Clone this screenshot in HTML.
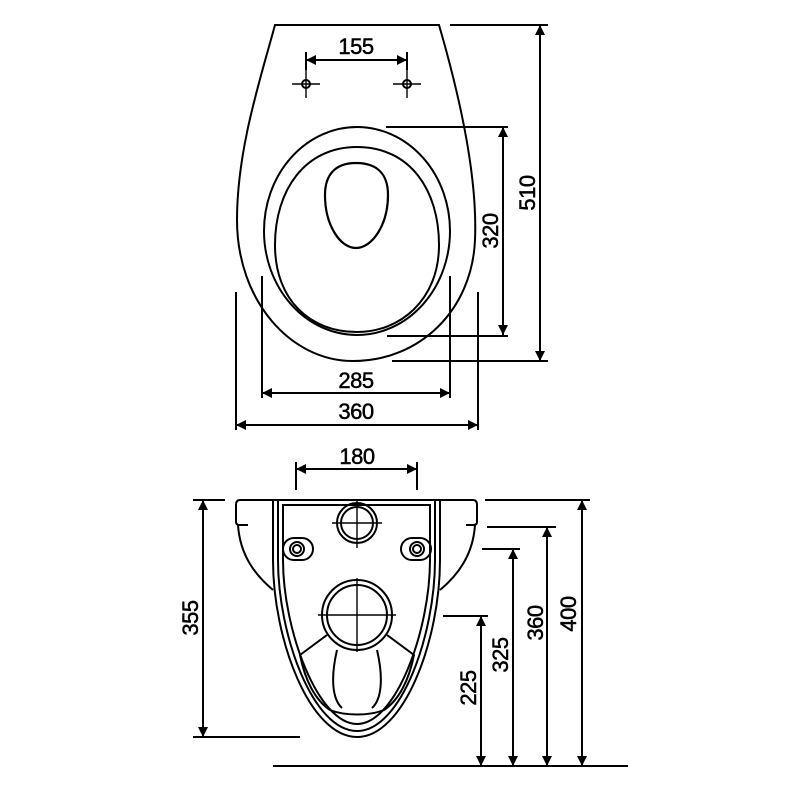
<!DOCTYPE html>
<html><head><style>html,body{margin:0;padding:0;background:#fff}svg{display:block}</style></head>
<body>
<svg width="800" height="800" viewBox="0 0 800 800" xmlns="http://www.w3.org/2000/svg">
<defs>
<marker id="a" viewBox="0 0 10 10" refX="10" refY="5" markerWidth="10" markerHeight="10" markerUnits="userSpaceOnUse" orient="auto-start-reverse"><path d="M0,0 L10,5 L0,10 Z" fill="#000"/></marker>
</defs>
<g fill="none" stroke="#000" stroke-width="2">
<!-- top view -->
<path d="M275,25 L439,25 C455,80 478,170 475,240 C472,310 420,361 353,361 C290,361 237,300 237,220 C237,150 260,80 275,25 Z"/>
<ellipse cx="357" cy="231" rx="93" ry="104"/>
<path d="M357,147 C410,147 439,190 439,245 C439,300 400,332 357,332 C310,332 275,300 275,245 C275,190 305,147 357,147 Z"/>
<path d="M356,163 C378,163 388,175 388,195 C388,225 372,248 356,248 C340,248 325,225 325,195 C325,175 335,163 356,163 Z" stroke-width="2.2"/>
<circle cx="306" cy="84" r="4"/><circle cx="407" cy="84" r="4"/>
<path d="M292,84h28M306,70v28M393,84h28M407,70v28" stroke-width="1.4"/>
<!-- dims top -->
<path d="M306,52v18M407,52v18"/>
<path d="M306,60H407" marker-start="url(#a)" marker-end="url(#a)"/>
<path d="M386,127H508M387,336H508"/>
<path d="M503,127V335" marker-start="url(#a)" marker-end="url(#a)"/>
<path d="M450,25H548M392,361H548"/>
<path d="M540,25V361" marker-start="url(#a)" marker-end="url(#a)"/>
<path d="M262,276V398M450,276V398"/>
<path d="M262,393H450" marker-start="url(#a)" marker-end="url(#a)"/>
<path d="M236,292V430M478,292V430"/>
<path d="M236,425H478" marker-start="url(#a)" marker-end="url(#a)"/>
<!-- bottom view -->
<path d="M296,462V490M417,462V490"/>
<path d="M296,469H417" marker-start="url(#a)" marker-end="url(#a)"/>
<path d="M240,500 H473 Q477,500 477,505 V522 Q477,525 473,525 H466"/>
<path d="M240,500 Q236,500 236,505 V522 Q236,525 240,525 H248"/>
<path d="M238,525 C240,555 255,575 273,590"/>
<path d="M475,525 C473,555 458,575 440,590"/>
<path d="M273,500 V560 C273,640 310,737 357,737 C404,737 440,640 440,560 V500"/>
<path d="M278,500 V560 C278,635 313,731 357,731 C401,731 435,635 435,560 V500"/>
<path d="M283,505 V560 C283,630 318,724 357,724 C396,724 430,630 430,560 V505 Z"/>
<circle cx="357" cy="523" r="20"/><circle cx="357" cy="523" r="16"/>
<path d="M332,523h50M357,500v48" stroke-width="1.4"/>
<rect x="283" y="538" width="30" height="22" rx="11"/><circle cx="297" cy="549" r="7"/><circle cx="297" cy="549" r="4"/>
<rect x="401" y="538" width="30" height="22" rx="11"/><circle cx="417" cy="549" r="7"/><circle cx="417" cy="549" r="4"/>
<circle cx="357" cy="615" r="35"/><circle cx="357" cy="615" r="30"/>
<path d="M318,615h78M357,578v74" stroke-width="1.4"/>
<path d="M327,635 L300,655 C305,680 315,700 330,710 C345,716 369,716 384,710 C399,700 409,680 414,655 L387,635"/>
<path d="M337,650 C330,680 333,700 342,708 M377,650 C384,680 381,700 372,708"/>
<!-- dims bottom -->
<path d="M193,500H225M193,737H300"/>
<path d="M203,500V737" marker-start="url(#a)" marker-end="url(#a)"/>
<path d="M273,766H628"/>
<path d="M485,500H590"/><path d="M582,500V766" marker-start="url(#a)" marker-end="url(#a)"/>
<path d="M487,527H556"/><path d="M547,527V766" marker-start="url(#a)" marker-end="url(#a)"/>
<path d="M482,549H520"/><path d="M513,549V766" marker-start="url(#a)" marker-end="url(#a)"/>
<path d="M443,616H488"/><path d="M481,616V766" marker-start="url(#a)" marker-end="url(#a)"/>
</g>
<g font-family="Liberation Sans, sans-serif" font-size="22" text-anchor="middle" fill="#000" stroke="#000" stroke-width="0.5" style="letter-spacing:-0.5px">
<text x="356" y="54">155</text>
<text x="356" y="388">285</text>
<text x="356" y="419">360</text>
<text x="357" y="464">180</text>
<text transform="translate(498,231) rotate(-90)">320</text>
<text transform="translate(535,193) rotate(-90)">510</text>
<text transform="translate(198,618) rotate(-90)">355</text>
<text transform="translate(576,614) rotate(-90)">400</text>
<text transform="translate(543,623) rotate(-90)">360</text>
<text transform="translate(508,655) rotate(-90)">325</text>
<text transform="translate(476,688) rotate(-90)">225</text>
</g>
</svg>
</body></html>
